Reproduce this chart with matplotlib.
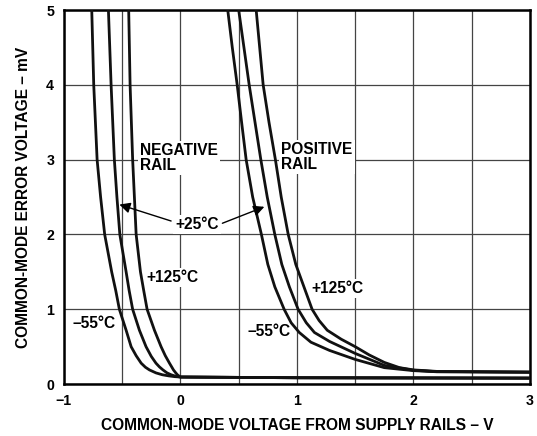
import matplotlib
matplotlib.use("Agg")
import matplotlib.pyplot as plt
from matplotlib.ticker import MultipleLocator

plt.rcParams['font.family'] = ['Liberation Sans', 'DejaVu Sans']
plt.rcParams['font.weight'] = 'bold'
plt.rcParams['axes.labelweight'] = 'bold'

# negative rail curves (x in V from rail, y in mV)
neg_m55_x = [-0.761, -0.744, -0.715, -0.685, -0.65, -0.59, -0.555, -0.524, -0.466, -0.423, -0.38, -0.337,
             -0.30, -0.266, -0.21, -0.155, -0.10, -0.05, 0.0, 1.0, 3.0]
neg_m55_y = [5.0, 4.0, 3.0, 2.5, 2.0, 1.5, 1.25, 1.0, 0.72, 0.5, 0.38, 0.28,
             0.225, 0.19, 0.15, 0.125, 0.11, 0.10, 0.095, 0.085, 0.08]
neg_25_x = [-0.618, -0.595, -0.567, -0.545, -0.52, -0.466, -0.44, -0.41, -0.352, -0.295, -0.25, -0.21,
            -0.18, -0.15, -0.115, -0.08, -0.04, 0.0, 1.0, 3.0]
neg_25_y = [5.0, 4.0, 3.0, 2.5, 2.0, 1.5, 1.25, 1.0, 0.72, 0.5, 0.37, 0.28,
            0.23, 0.19, 0.15, 0.125, 0.105, 0.095, 0.085, 0.08]
neg_125_x = [-0.444, -0.432, -0.41, -0.395, -0.38, -0.343, -0.315, -0.286, -0.223, -0.166, -0.13, -0.094,
             -0.075, -0.06, -0.04, -0.026, -0.01, 0.0, 1.0, 3.0]
neg_125_y = [5.0, 4.0, 3.0, 2.5, 2.0, 1.5, 1.25, 1.0, 0.72, 0.5, 0.38, 0.28,
             0.23, 0.19, 0.15, 0.125, 0.105, 0.095, 0.085, 0.08]

# positive rail curves
pos_m55_x = [0.406, 0.445, 0.487, 0.525, 0.564, 0.62, 0.695, 0.75, 0.81, 0.89, 0.95, 1.02, 1.12,
             1.28, 1.5, 1.75, 2.0, 2.2, 3.0]
pos_m55_y = [5.0, 4.5, 4.0, 3.5, 3.0, 2.5, 2.0, 1.6, 1.3, 1.0, 0.82, 0.69, 0.56,
             0.45, 0.33, 0.22, 0.18, 0.165, 0.16]
pos_25_x = [0.50, 0.545, 0.59, 0.64, 0.69, 0.745, 0.81, 0.87, 0.935, 1.01, 1.08, 1.15, 1.28,
            1.5, 1.75, 2.0, 2.2, 3.0]
pos_25_y = [5.0, 4.5, 4.0, 3.5, 3.0, 2.5, 2.0, 1.6, 1.3, 1.0, 0.82, 0.69, 0.57,
            0.41, 0.25, 0.185, 0.167, 0.16]
pos_125_x = [0.65, 0.68, 0.71, 0.76, 0.815, 0.865, 0.925, 0.99, 1.06, 1.13, 1.19, 1.26, 1.38,
             1.5, 1.62, 1.75, 1.88, 2.0, 2.2, 3.0]
pos_125_y = [5.0, 4.5, 4.0, 3.5, 3.0, 2.5, 2.0, 1.6, 1.3, 1.0, 0.85, 0.72, 0.6,
             0.50, 0.39, 0.29, 0.22, 0.19, 0.17, 0.16]

fig = plt.figure(figsize=(5.37, 4.36), dpi=100)
ax = fig.add_axes([0.119, 0.119, 0.868, 0.858])

ax.set_xlim(-1, 3)
ax.set_ylim(0, 5)
ax.xaxis.set_major_locator(MultipleLocator(1))
ax.xaxis.set_minor_locator(MultipleLocator(0.5))
ax.yaxis.set_major_locator(MultipleLocator(1))
ax.grid(which='both', axis='x', color='#444444', lw=0.9)
ax.grid(which='major', axis='y', color='#444444', lw=0.9)
ax.tick_params(which='both', length=0, labelsize=10.2, pad=7)
for lab in ax.get_xticklabels() + ax.get_yticklabels():
    lab.set_fontweight('bold')
for s in ax.spines.values():
    s.set_linewidth(1.8)

# curves sit above the white label boxes, the boxes only hide grid lines
curves = [(neg_m55_x, neg_m55_y), (neg_25_x, neg_25_y), (neg_125_x, neg_125_y),
          (pos_m55_x, pos_m55_y), (pos_25_x, pos_25_y), (pos_125_x, pos_125_y)]
for cx, cy in curves:
    ax.plot(cx, cy, color='#111111', lw=2, solid_joinstyle='round', zorder=5)

box = dict(facecolor='white', edgecolor='none', pad=1.5)
fs = 11.2
ax.text(-0.35, 3.22, "NEGATIVE\nRAIL", fontsize=fs, fontweight='bold', va='top', ha='left', linespacing=1.0, bbox=box, zorder=4)
ax.text(0.865, 3.24, "POSITIVE\nRAIL", fontsize=fs, fontweight='bold', va='top', ha='left', linespacing=1.0, bbox=box, zorder=4)
ax.text(0.14, 2.13, "+25°C", fontsize=fs, fontweight='bold', va='center', ha='center', bbox=box, zorder=4)
ax.text(-0.295, 1.42, "+125°C", fontsize=fs, fontweight='bold', va='center', ha='left', bbox=box, zorder=4)
ax.text(-0.93, 0.81, "–55°C", fontsize=fs, fontweight='bold', va='center', ha='left', bbox=box, zorder=4)
ax.text(1.12, 1.28, "+125°C", fontsize=fs, fontweight='bold', va='center', ha='left', bbox=box, zorder=4)
ax.text(0.575, 0.70, "–55°C", fontsize=fs, fontweight='bold', va='center', ha='left', bbox=box, zorder=4)

arrow = dict(arrowstyle='-|>', color='black', lw=1.0, mutation_scale=16, shrinkA=0, shrinkB=0)
ax.annotate("", xy=(-0.524, 2.40), xytext=(-0.08, 2.18), arrowprops=arrow, zorder=6)
ax.annotate("", xy=(0.72, 2.37), xytext=(0.36, 2.15), arrowprops=arrow, zorder=6)

ax.set_xlabel("COMMON-MODE VOLTAGE FROM SUPPLY RAILS – V", fontsize=11.2, fontweight='bold', labelpad=7)
ax.set_ylabel("COMMON-MODE ERROR VOLTAGE – mV", fontsize=11.2, fontweight='bold', labelpad=11)

fig.savefig("out.png", dpi=100)
